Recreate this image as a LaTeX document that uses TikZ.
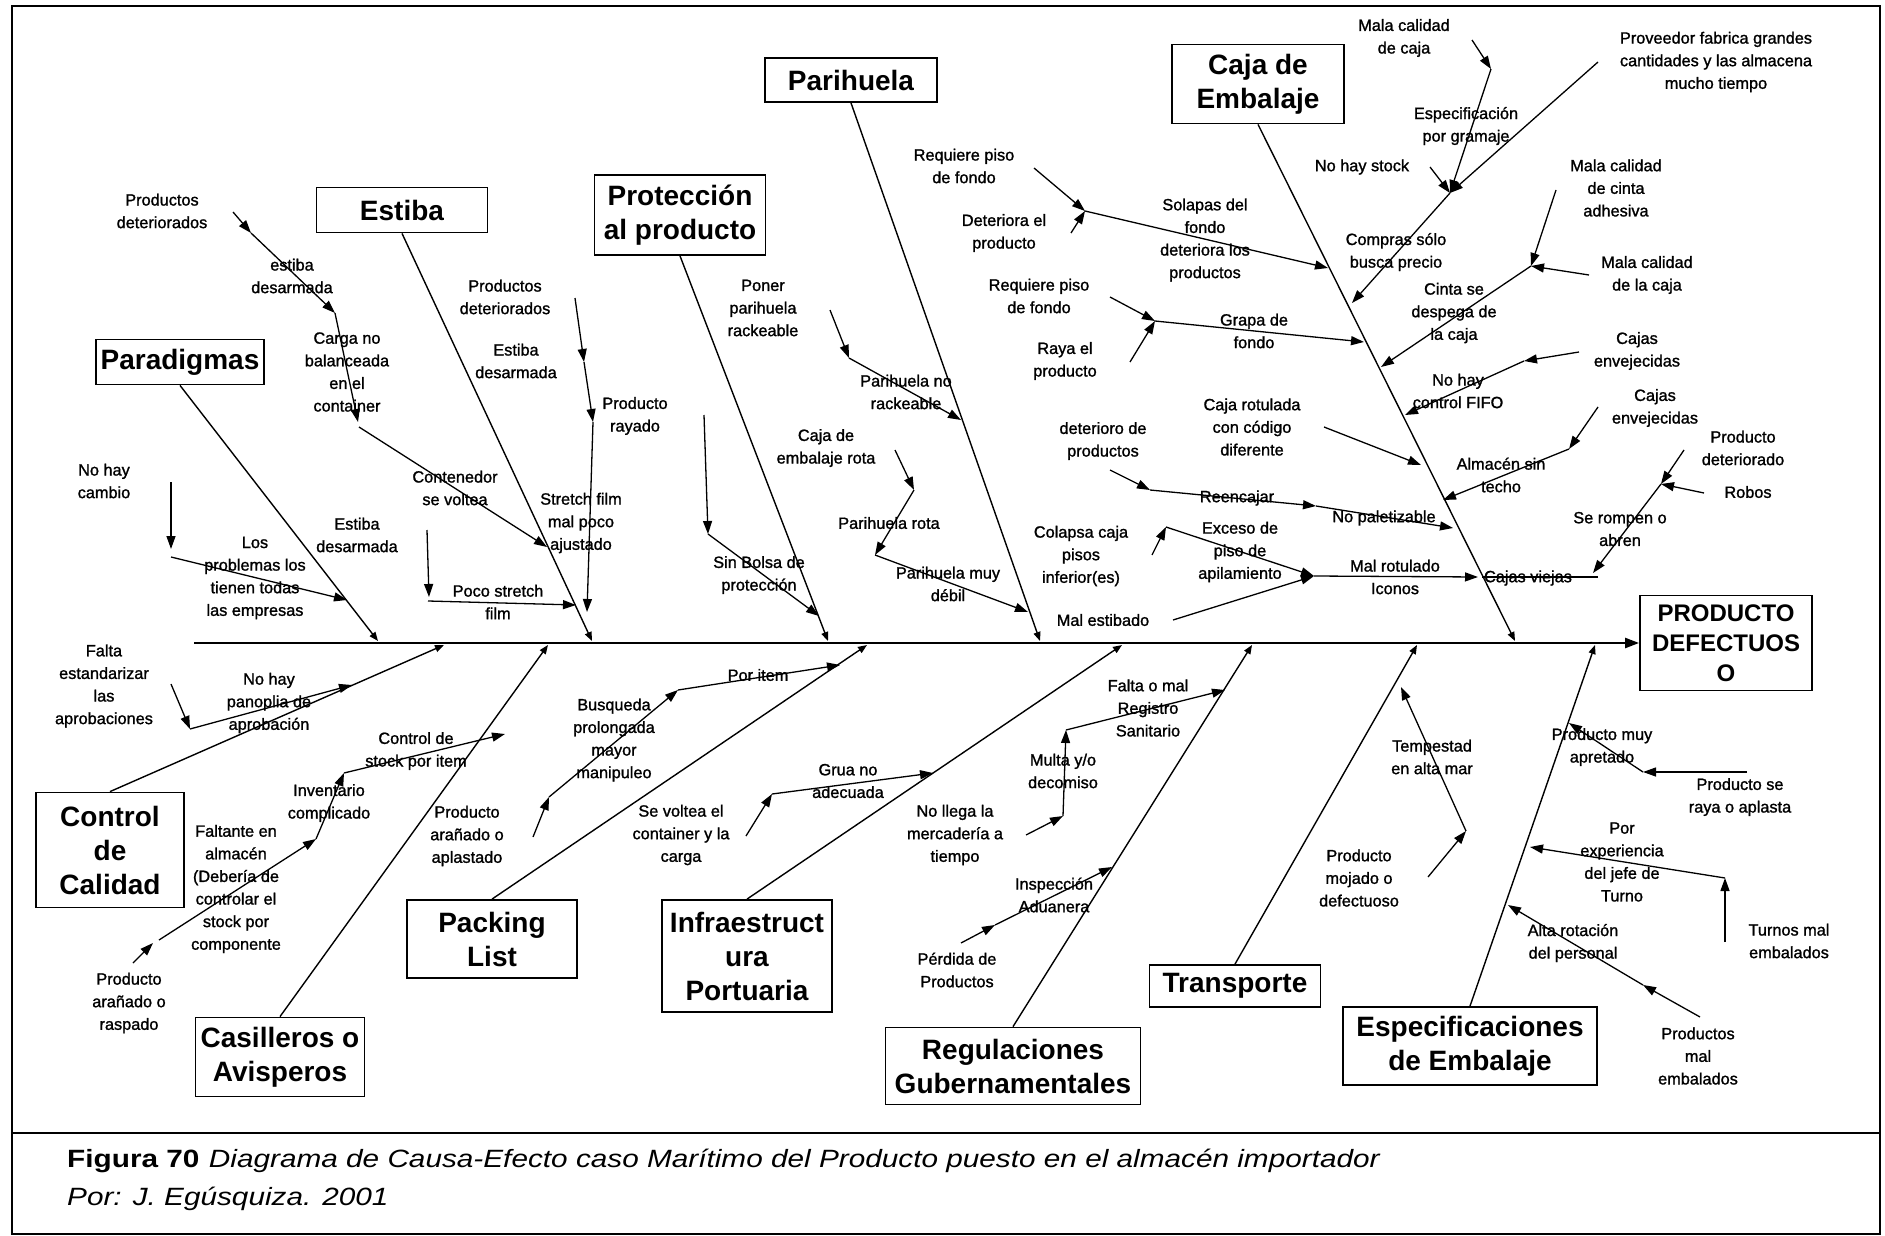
\documentclass[tikz,border=0pt]{standalone}
\usepackage{fontspec}
\setmainfont{Liberation Sans}
\newfontfamily\lblfont{Liberation Sans}[FakeBold=1.3]
\usetikzlibrary{arrows.meta}

\begin{document}
\begin{tikzpicture}[x=1pt,y=-1pt,
  cat/.style={draw,line width=1.8pt,font=\fontsize{28}{34}\selectfont\bfseries,align=center,inner sep=0pt},
  lbl/.style={font=\lblfont\fontsize{16.3}{22.6}\selectfont,align=center,inner sep=0pt},
  arr/.style={line width=1.3pt,-{Triangle[length=13pt,width=9pt]}},
  bone/.style={line width=1.4pt,-{Triangle[length=9pt,width=7pt]}},
  spine/.style={line width=2.3pt,-{Triangle[length=14pt,width=10pt]}}]
\useasboundingbox (0,0) rectangle (1885,1236);
\draw[line width=2.6pt] (12,6) rectangle (1880,1234);
\draw[line width=2.6pt] (12,1133) -- (1880,1133);

% efecto y espina
\node[cat,font=\fontsize{24}{30}\selectfont\bfseries,minimum width=172pt,minimum height=95pt] (efecto) at (1726,643) {PRODUCTO\\DEFECTUOS\\O};
\coordinate (s0) at (194,643);
\draw[spine] (s0) -- (efecto.west);

% causas principales
\node[cat,minimum width=168pt,minimum height=45pt] (parad) at (180,362) {Paradigmas};
\node[cat,minimum width=171pt,minimum height=45pt] (estiba) at (402,210) {Estiba};
\node[cat,minimum width=171pt,minimum height=80pt] (prot) at (680,215) {Protección\\al producto};
\node[cat,minimum width=172pt,minimum height=44pt] (parih) at (851,80) {Parihuela};
\node[cat,minimum width=172pt,minimum height=79pt] (caja) at (1258,84) {Caja de\\Embalaje};
\node[cat,minimum width=148pt,minimum height=115pt] (ctrl) at (110,850) {Control\\de\\Calidad};
\node[cat,minimum width=169pt,minimum height=79pt] (casill) at (280,1057) {Casilleros o\\Avisperos};
\node[cat,minimum width=170pt,minimum height=78pt] (pack) at (492,939) {Packing\\List};
\node[cat,minimum width=170pt,minimum height=112pt] (infra) at (747,956) {Infraestruct\\ura\\Portuaria};
\node[cat,minimum width=255pt,minimum height=77pt] (regul) at (1013,1066) {Regulaciones\\Gubernamentales};
\node[cat,minimum width=171pt,minimum height=42pt] (transp) at (1235,986) {Transporte};
\node[cat,minimum width=254pt,minimum height=78pt] (espec) at (1470,1046) {Especificaciones\\de Embalaje};

\coordinate (b1) at (378,641);
\coordinate (b2) at (592,641);
\coordinate (b3) at (828,641);
\coordinate (b4) at (1040,641);
\coordinate (b5) at (1515,641);
\coordinate (b6) at (444,645);
\coordinate (b7) at (548,645);
\coordinate (b8) at (867,645);
\coordinate (b9) at (1122,645);
\coordinate (b10) at (1252,645);
\coordinate (b11) at (1417,645);
\coordinate (b12) at (1595,645);
\draw[bone] (parad.south) -- (b1);
\draw[bone] (estiba.south) -- (b2);
\draw[bone] (prot.south) -- (b3);
\draw[bone] (parih.south) -- (b4);
\draw[bone] (caja.south) -- (b5);
\draw[bone] (ctrl.north) -- (b6);
\draw[bone] (casill.north) -- (b7);
\draw[bone] (pack.north) -- (b8);
\draw[bone] (infra.north) -- (b9);
\draw[bone] (regul.north) -- (b10);
\draw[bone] (transp.north) -- (b11);
\draw[bone] (espec.north) -- (b12);

% Paradigmas
\node[lbl] (nocambio) at (104,481) {No hay\\cambio};
\node[lbl] (losprob) at (255,578) {Los\\problemas los\\tienen todas\\las empresas};
\node[lbl] (estdes1) at (357,535) {Estiba\\desarmada};
\node[lbl] (pocost) at (498,602) {Poco stretch\\film};
\coordinate (pa1) at (171,482);
\coordinate (pa2) at (171,549);
\coordinate (pa3) at (171,557);
\coordinate (pa4) at (347,600);
\coordinate (pa5) at (427,530);
\coordinate (pa6) at (429,597);
\coordinate (pa7) at (428,601);
\coordinate (pa8) at (576,605);
\draw[arr] (pa1) -- (pa2);
\draw[arr] (pa3) -- (pa4);
\draw[arr] (pa5) -- (pa6);
\draw[arr] (pa7) -- (pa8);

% Estiba
\node[lbl] (proddet1) at (162,211) {Productos\\deteriorados};
\node[lbl] (estdes2) at (292,276) {estiba\\desarmada};
\node[lbl] (carga) at (347,372) {Carga no\\balanceada\\en el\\container};
\node[lbl] (contvol) at (455,488) {Contenedor\\se voltea};
\node[lbl] (stretch) at (581,523) {Stretch film\\mal poco\\ajustado};
\node[lbl] (proddet2) at (505,297) {Productos\\deteriorados};
\node[lbl] (estdes3) at (516,361) {Estiba\\desarmada};
\node[lbl] (prodray) at (635,416) {Producto\\rayado};
\coordinate (es1) at (233,212);
\coordinate (es2) at (251,233);
\coordinate (es3) at (335,313);
\coordinate (es4) at (358,422);
\coordinate (es5) at (359,427);
\coordinate (es6) at (547,547);
\coordinate (es7) at (575,298);
\coordinate (es8) at (584,362);
\coordinate (es9) at (593,422);
\coordinate (es10) at (587,612);
\draw[arr] (es1) -- (es2);
\draw[arr] (es2) -- (es3);
\draw[arr] (es3) -- (es4);
\draw[arr] (es5) -- (es6);
\draw[arr] (es7) -- (es8);
\draw[arr] (es8) -- (es9);
\draw[arr] (es9) -- (es10);

% Proteccion al producto
\node[lbl] (sinbolsa) at (759,575) {Sin Bolsa de\\protección};
\node[lbl] (poner) at (763,308) {Poner\\parihuela\\rackeable};
\coordinate (pr1) at (704,415);
\coordinate (pr2) at (708,534);
\coordinate (pr3) at (819,616);
\draw[arr] (pr1) -- (pr2);
\draw[arr] (pr2) -- (pr3);

% Parihuela
\node[lbl] (pnorack) at (906,392) {Parihuela no\\rackeable};
\node[lbl] (cajarota) at (826,448) {Caja de\\embalaje rota};
\node[lbl] (phrota) at (889,523) {Parihuela rota};
\node[lbl] (phdebil) at (948,584) {Parihuela muy\\débil};
\coordinate (ph1) at (830,310);
\coordinate (ph2) at (849,358);
\coordinate (ph3) at (961,420);
\coordinate (ph4) at (895,450);
\coordinate (ph5) at (914,490);
\coordinate (ph6) at (875,555);
\coordinate (ph7) at (1028,612);
\draw[arr] (ph1) -- (ph2);
\draw[arr] (ph2) -- (ph3);
\draw[arr] (ph4) -- (ph5);
\draw[arr] (ph5) -- (ph6);
\draw[arr] (ph6) -- (ph7);

% Caja de Embalaje, lado izquierdo
\node[lbl] (reqpiso1) at (964,166) {Requiere piso\\de fondo};
\node[lbl] (deteri) at (1004,233) {Deteriora el\\producto};
\node[lbl] (solapas) at (1205,240) {Solapas del\\fondo\\deteriora los\\productos};
\node[lbl] (reqpiso2) at (1039,296) {Requiere piso\\de fondo};
\node[lbl] (raya) at (1065,361) {Raya el\\producto};
\node[lbl] (grapa) at (1254,331) {Grapa de\\fondo};
\node[lbl] (rotul) at (1252,427) {Caja rotulada\\con código\\diferente};
\node[lbl] (deter2) at (1103,441) {deterioro de\\productos};
\node[lbl] (reencajar) at (1237,498) {Reencajar};
\node[lbl] (nopalet) at (1384,518) {No paletizable};
\node[lbl] (colapsa) at (1081,556) {Colapsa caja\\pisos\\inferior(es)};
\node[lbl] (exceso) at (1240,552) {Exceso de\\piso de\\apilamiento};
\node[lbl] (malest) at (1103,620) {Mal estibado};
\node[lbl] (malrot) at (1395,577) {Mal rotulado\\Iconos};
\coordinate (cj1) at (1034,168);
\coordinate (cj2) at (1085,211);
\coordinate (cj3) at (1071,233);
\coordinate (cj4) at (1328,268);
\coordinate (cj5) at (1110,297);
\coordinate (cj6) at (1155,321);
\coordinate (cj7) at (1130,362);
\coordinate (cj8) at (1364,342);
\coordinate (cj9) at (1324,427);
\coordinate (cj10) at (1421,465);
\coordinate (cj11) at (1110,470);
\coordinate (cj12) at (1150,490);
\coordinate (cj13) at (1316,506);
\coordinate (cj14) at (1453,528);
\coordinate (cj15) at (1152,555);
\coordinate (cj16) at (1166,527);
\coordinate (cj17) at (1314,576);
\coordinate (cj18) at (1173,620);
\coordinate (cj19) at (1478,577);
\draw[arr] (cj1) -- (cj2);
\draw[arr] (cj3) -- (cj2);
\draw[arr] (cj2) -- (cj4);
\draw[arr] (cj5) -- (cj6);
\draw[arr] (cj7) -- (cj6);
\draw[arr] (cj6) -- (cj8);
\draw[arr] (cj9) -- (cj10);
\draw[arr] (cj11) -- (cj12);
\draw[arr] (cj12) -- (cj13);
\draw[arr] (cj13) -- (cj14);
\draw[arr] (cj15) -- (cj16);
\draw[arr] (cj16) -- (cj17);
\draw[arr] (cj18) -- (cj17);
\draw[arr] (cj17) -- (cj19);

% Caja de Embalaje, lado derecho
\node[lbl] (malcaja) at (1404,38) {Mala calidad\\de caja};
\node[lbl] (especif) at (1466,126) {Especificación\\por gramaje};
\node[lbl] (proveedor) at (1716,62) {Proveedor fabrica grandes\\cantidades y las almacena\\mucho tiempo};
\node[lbl] (nostock) at (1362,167) {No hay stock};
\node[lbl] (compras) at (1396,252) {Compras sólo\\busca precio};
\node[lbl] (cinta) at (1616,188) {Mala calidad\\de cinta\\adhesiva};
\node[lbl] (malcaja2) at (1647,275) {Mala calidad\\de la caja};
\node[lbl] (despega) at (1454,313) {Cinta se\\despega de\\la caja};
\node[lbl] (envej1) at (1637,351) {Cajas\\envejecidas};
\node[lbl] (fifo) at (1458,391) {No hay\\control FIFO};
\node[lbl] (envej2) at (1655,408) {Cajas\\envejecidas};
\node[lbl] (almacen) at (1501,475) {Almacén sin\\techo};
\node[lbl] (proddet3) at (1743,448) {Producto\\deteriorado};
\node[lbl] (robos) at (1748,492) {Robos};
\node[lbl] (rompen) at (1620,529) {Se rompen o\\abren};
\node[lbl] (viejas) at (1528,578) {Cajas viejas};
\coordinate (cr1) at (1472,40);
\coordinate (cr2) at (1491,69);
\coordinate (cr3) at (1450,193);
\coordinate (cr4) at (1598,62);
\coordinate (cr5) at (1430,167);
\coordinate (cr6) at (1352,303);
\coordinate (cr7) at (1556,190);
\coordinate (cr8) at (1531,266);
\coordinate (cr9) at (1589,275);
\coordinate (cr10) at (1381,367);
\coordinate (cr11) at (1579,352);
\coordinate (cr12) at (1524,361);
\coordinate (cr13) at (1405,415);
\coordinate (cr14) at (1598,407);
\coordinate (cr15) at (1569,449);
\coordinate (cr16) at (1443,500);
\coordinate (cr17) at (1684,450);
\coordinate (cr18) at (1661,484);
\coordinate (cr19) at (1704,493);
\coordinate (cr20) at (1593,573);
\coordinate (cr21) at (1598,577);
\coordinate (cr22) at (1482,577);
\draw[arr] (cr1) -- (cr2);
\draw[arr] (cr2) -- (cr3);
\draw[arr] (cr4) -- (cr3);
\draw[arr] (cr5) -- (cr3);
\draw[arr] (cr3) -- (cr6);
\draw[arr] (cr7) -- (cr8);
\draw[arr] (cr9) -- (cr8);
\draw[arr] (cr8) -- (cr10);
\draw[arr] (cr11) -- (cr12);
\draw[arr] (cr12) -- (cr13);
\draw[arr] (cr14) -- (cr15);
\draw[arr] (cr15) -- (cr16);
\draw[arr] (cr17) -- (cr18);
\draw[arr] (cr19) -- (cr18);
\draw[arr] (cr18) -- (cr20);
\draw[line width=1.3pt] (cr21) -- (cr22);

% Control de Calidad
\node[lbl] (faltaest) at (104,686) {Falta\\estandarizar\\las\\aprobaciones};
\node[lbl] (panoplia) at (269,703) {No hay\\panoplia de\\aprobación};
\coordinate (ct1) at (171,684);
\coordinate (ct2) at (190,729);
\coordinate (ct3) at (352,685);
\draw[arr] (ct1) -- (ct2);
\draw[arr] (ct2) -- (ct3);

% Casilleros o Avisperos
\node[lbl] (araraspado) at (129,1003) {Producto\\arañado o\\raspado};
\node[lbl] (faltante) at (236,889) {Faltante en\\almacén\\(Debería de\\controlar el\\stock por\\componente};
\node[lbl] (inventario) at (329,803) {Inventario\\complicado};
\node[lbl] (ctrlstock) at (416,751) {Control de\\stock por item};
\coordinate (cs1) at (133,963);
\coordinate (cs2) at (153,943);
\coordinate (cs3) at (159,940);
\coordinate (cs4) at (316,839);
\coordinate (cs5) at (344,773);
\coordinate (cs6) at (505,734);
\draw[arr] (cs1) -- (cs2);
\draw[arr] (cs3) -- (cs4);
\draw[arr] (cs4) -- (cs5);
\draw[arr] (cs5) -- (cs6);

% Packing List
\node[lbl] (aranapl) at (467,836) {Producto\\arañado o\\aplastado};
\node[lbl] (busqueda) at (614,740) {Busqueda\\prolongada\\mayor\\manipuleo};
\node[lbl] (poritem) at (758,675) {Por item};
\coordinate (pk1) at (533,837);
\coordinate (pk2) at (549,797);
\coordinate (pk3) at (678,690);
\coordinate (pk4) at (840,665);
\draw[arr] (pk1) -- (pk2);
\draw[arr] (pk2) -- (pk3);
\draw[arr] (pk3) -- (pk4);

% Infraestructura Portuaria
\node[lbl] (sevoltea) at (681,835) {Se voltea el\\container y la\\carga};
\node[lbl] (grua) at (848,781) {Grua no\\adecuada};
\coordinate (in1) at (746,836);
\coordinate (in2) at (772,794);
\coordinate (in3) at (933,773);
\draw[arr] (in1) -- (in2);
\draw[arr] (in2) -- (in3);

% Regulaciones Gubernamentales
\node[lbl] (nollega) at (955,835) {No llega la\\mercadería a\\tiempo};
\node[lbl] (multa) at (1063,771) {Multa y/o\\decomiso};
\node[lbl] (registro) at (1148,708) {Falta o mal\\Registro\\Sanitario};
\node[lbl] (perdida) at (957,970) {Pérdida de\\Productos};
\node[lbl] (inspec) at (1054,895) {Inspección\\Aduanera};
\coordinate (rg1) at (1026,835);
\coordinate (rg2) at (1063,816);
\coordinate (rg3) at (1066,730);
\coordinate (rg4) at (1225,690);
\coordinate (rg5) at (961,943);
\coordinate (rg6) at (995,925);
\coordinate (rg7) at (1112,867);
\draw[arr] (rg1) -- (rg2);
\draw[arr] (rg2) -- (rg3);
\draw[arr] (rg3) -- (rg4);
\draw[arr] (rg5) -- (rg6);
\draw[arr] (rg6) -- (rg7);

% Transporte
\node[lbl] (tempestad) at (1432,757) {Tempestad\\en alta mar};
\node[lbl] (mojado) at (1359,878) {Producto\\mojado o\\defectuoso};
\coordinate (tr1) at (1428,877);
\coordinate (tr2) at (1466,831);
\coordinate (tr3) at (1401,687);
\draw[arr] (tr1) -- (tr2);
\draw[arr] (tr2) -- (tr3);

% Especificaciones de Embalaje
\node[lbl] (seraya) at (1740,797) {Producto se\\raya o aplasta};
\node[lbl] (apretado) at (1602,747) {Producto muy\\apretado};
\node[lbl] (turnos) at (1789,941) {Turnos mal\\embalados};
\node[lbl] (porexp) at (1622,862) {Por\\experiencia\\del jefe de\\Turno};
\node[lbl] (prodmal) at (1698,1056) {Productos\\mal\\embalados};
\node[lbl] (alta) at (1573,943) {Alta rotación\\del personal};
\coordinate (ep1) at (1747,772);
\coordinate (ep2) at (1643,772);
\coordinate (ep3) at (1569,723);
\coordinate (ep4) at (1725,942);
\coordinate (ep5) at (1725,878);
\coordinate (ep6) at (1530,847);
\coordinate (ep7) at (1700,1017);
\coordinate (ep8) at (1643,985);
\coordinate (ep9) at (1508,905);
\draw[arr] (ep1) -- (ep2);
\draw[arr] (ep2) -- (ep3);
\draw[arr] (ep4) -- (ep5);
\draw[arr] (ep5) -- (ep6);
\draw[arr] (ep7) -- (ep8);
\draw[arr] (ep8) -- (ep9);

% pie de figura
\node[anchor=base west,inner sep=0pt,font=\fontsize{25}{30}\selectfont] (fig) at (67,1167)
  {\scalebox{1.19}[1]{\textbf{Figura 70}\hspace{8pt}\textit{Diagrama de Causa-Efecto caso Marítimo del Producto puesto en el almacén importador}}};
\node[anchor=base west,inner sep=0pt,font=\fontsize{25}{30}\selectfont] (por) at (67,1205)
  {\scalebox{1.19}[1]{\textit{Por: J. Egúsquiza. 2001}}};
\end{tikzpicture}
\end{document}
